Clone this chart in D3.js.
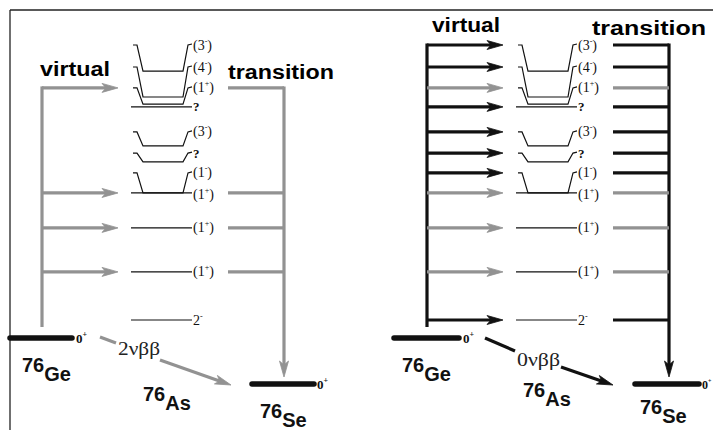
<!DOCTYPE html>
<html>
<head>
<meta charset="utf-8">
<script src="https://cdn.jsdelivr.net/npm/d3@7"></script>
<style>
  html, body { margin: 0; padding: 0; background: #fff; }
  svg { display: block; }
</style>
</head>
<body>
<script>
// ---- data (76As intermediate levels, arbitrary energy units) ----
const levelSpin      = ["3", "4", "1", "?", "3", "?", "1", "1", "1", "1", "2"];
const levelParity    = ["-", "-", "+", "",  "-", "",  "-", "+", "+", "+", "-"];
const levelTentative = [true, true, true, false, true, false, true, true, true, true, false];
const levelEnergy    = [9.05, 8.11, 7.85, 7.75, 6.33, 5.75, 4.62, 4.62, 3.35, 1.75, 0.0];
const labelEnergy    = [10.0, 9.20, 8.44, 7.75, 6.84, 6.07, 5.35, 4.62, 3.35, 1.75, 0.0];
const groundNuclei   = ["Ge", "As", "Se"];
const massNumber     = "76";
const groundEnergy   = [-0.65, -2.33];          // 76Ge 0+, 76Se 0+
const groundSpin     = ["0+", "0+"];
const decayModes     = ["2νββ", "0νββ"];
const headerLabels   = ["virtual", "transition"];

// ---- setup ----
const W = 713, H = 430;
const svg = d3.select("body").append("svg").attr("width", W).attr("height", H);
const y = d3.scaleLinear().domain([0, 10]).range([320, 45]);
const GRAY = "#929292";
const serif = "'Liberation Serif', 'DejaVu Serif', serif";
const sans = "'Liberation Sans', Arial, Helvetica, sans-serif";

// frame
svg.append("line").attr("x1", 10).attr("y1", 10).attr("x2", W).attr("y2", 10)
  .attr("stroke", "#222").attr("stroke-width", 1.3);
svg.append("line").attr("x1", 10).attr("y1", 10).attr("x2", 10).attr("y2", H)
  .attr("stroke", "#222").attr("stroke-width", 1.3);

function isGT(i) { return levelSpin[i] === "1" && levelParity[i] === "+"; }

function hArrow(g, x1, x2, yy, color) {
  g.append("line").attr("x1", x1).attr("y1", yy).attr("x2", x2 - 10).attr("y2", yy)
    .attr("stroke", color).attr("stroke-width", 3.2);
  g.append("path")
    .attr("d", `M${x2},${yy} L${x2 - 16},${yy - 4.5} L${x2 - 12},${yy} L${x2 - 16},${yy + 4.5} Z`)
    .attr("fill", color).attr("stroke", color).attr("stroke-width", 0.8);
}

function slantArrow(g, pts, color) {
  const [a, b, c, d] = pts;
  g.append("line").attr("x1", a[0]).attr("y1", a[1]).attr("x2", b[0]).attr("y2", b[1])
    .attr("stroke", color).attr("stroke-width", 3.2);
  const ang = Math.atan2(d[1] - c[1], d[0] - c[0]);
  const ex = d[0] - 10 * Math.cos(ang), ey = d[1] - 10 * Math.sin(ang);
  g.append("line").attr("x1", c[0]).attr("y1", c[1]).attr("x2", ex).attr("y2", ey)
    .attr("stroke", color).attr("stroke-width", 3.2);
  const L = 16, Wd = 4.5;
  const bx = d[0] - L * Math.cos(ang), by = d[1] - L * Math.sin(ang);
  const nx = -Math.sin(ang), ny = Math.cos(ang);
  const mx = d[0] - 12 * Math.cos(ang), my = d[1] - 12 * Math.sin(ang);
  g.append("path")
    .attr("d", `M${d[0]},${d[1]} L${bx + nx * Wd},${by + ny * Wd} L${mx},${my} L${bx - nx * Wd},${by - ny * Wd} Z`)
    .attr("fill", color).attr("stroke", color).attr("stroke-width", 0.8);
}

function levelLabel(g, x, yy, i) {
  const t = g.append("text").attr("x", x).attr("y", yy + 4.5)
    .attr("font-family", serif).attr("font-size", 14).attr("fill", "#111");
  if (levelSpin[i] === "?") { t.attr("font-size", 13).attr("font-weight", "bold").text("?"); return; }
  if (levelTentative[i]) t.append("tspan").text("(");
  t.append("tspan").text(levelSpin[i]);
  t.append("tspan").attr("dy", -6).attr("font-size", 8).text(levelParity[i]);
  t.append("tspan").attr("dy", 6).text(levelTentative[i] ? ")" : "");
}

function spinLabel(g, x, yy, s, small) {
  const t = g.append("text").attr("x", x).attr("y", yy + 5)
    .attr("font-family", serif).attr("font-weight", "bold").attr("font-size", small ? 12 : 13).attr("fill", "#111");
  t.append("tspan").text(s[0]);
  t.append("tspan").attr("dy", -6).attr("font-size", small ? 6 : 8).text(s[1]);
}

function nucleus(g, x, yBase, name) {
  const t = g.append("text").attr("x", x).attr("y", yBase)
    .attr("font-family", sans).attr("font-weight", "bold").attr("font-size", 20).attr("fill", "#111");
  t.append("tspan").text(massNumber);
  t.append("tspan").attr("dy", 9).text(name);
}

function drawPanel(p) {
  const g = svg.append("g");
  const dx = p.dx;
  const idx = p.arrows;
  const ys = idx.map(i => y(labelEnergy[i]));
  const yTop = d3.min(ys);

  // header texts
  g.append("text").attr("x", p.virt[0]).attr("y", p.virt[1])
    .attr("font-family", sans).attr("font-weight", "bold").attr("font-size", 20)
    .attr("textLength", p.virt[2]).attr("lengthAdjust", "spacingAndGlyphs").text(headerLabels[0]);
  g.append("text").attr("x", p.trans[0]).attr("y", p.trans[1])
    .attr("font-family", sans).attr("font-weight", "bold").attr("font-size", 20)
    .attr("textLength", p.trans[2]).attr("lengthAdjust", "spacingAndGlyphs").text(headerLabels[1]);

  // virtual vertical line
  g.append("line").attr("x1", 42 + dx).attr("y1", yTop - 1.5).attr("x2", 42 + dx).attr("y2", 327)
    .attr("stroke", p.mainColor).attr("stroke-width", 3.2);
  // transition vertical line with arrow
  const tx = 284 + dx;
  g.append("line").attr("x1", tx).attr("y1", yTop - 1.5).attr("x2", tx).attr("y2", 367)
    .attr("stroke", p.mainColor).attr("stroke-width", 3.2);
  g.append("path")
    .attr("d", `M${tx},377 L${tx - 4.5},361 L${tx},365 L${tx + 4.5},361 Z`)
    .attr("fill", p.mainColor).attr("stroke", p.mainColor).attr("stroke-width", 0.8);

  // arrows
  idx.forEach(i => {
    const c = isGT(i) ? GRAY : "#111";
    const yy = y(labelEnergy[i]);
    hArrow(g, 42 + dx, 118 + dx, yy, c);
    g.append("line").attr("x1", 228 + dx).attr("y1", yy).attr("x2", tx).attr("y2", yy)
      .attr("stroke", c).attr("stroke-width", 3.2);
  });

  // 76As levels
  const x0 = 131 + dx;
  levelSpin.forEach((s, i) => {
    const yl = y(labelEnergy[i]), yf = y(levelEnergy[i]);
    let pts;
    if (Math.abs(yl - yf) > 0.5) {
      pts = [[x0 + 2, yl], [x0 + 6, yl], [x0 + 12, yf], [x0 + 52, yf], [x0 + 57, yl], [x0 + 61, yl - 1]];
    } else {
      pts = [[x0, yf], [x0 + 61, yf]];
    }
    g.append("path").attr("d", d3.line()(pts)).attr("fill", "none")
      .attr("stroke", "#111").attr("stroke-width", 1.2);
    levelLabel(g, x0 + 62, (i === 7 ? yl + 2 : yl), i);
  });

  // ground states
  const yGe = y(groundEnergy[0]), ySe = y(groundEnergy[1]);
  g.append("line").attr("x1", p.ge[0]).attr("y1", yGe).attr("x2", p.ge[1]).attr("y2", yGe)
    .attr("stroke", "#111").attr("stroke-width", 5.5).attr("stroke-linecap", "round");
  g.append("line").attr("x1", p.se[0]).attr("y1", ySe).attr("x2", p.se[1]).attr("y2", ySe)
    .attr("stroke", "#111").attr("stroke-width", 5.5).attr("stroke-linecap", "round");
  spinLabel(g, p.ge[1] + 4, yGe, groundSpin[0], false);
  spinLabel(g, p.se[1] + 3, ySe, groundSpin[1], p.dx > 0);

  // decay arrow
  slantArrow(g, p.decay, p.mainColor);
  g.append("text").attr("x", p.decayText[0]).attr("y", p.decayText[1])
    .attr("font-family", serif).attr("font-size", 18)
    .attr("textLength", p.decayText[2]).attr("lengthAdjust", "spacingAndGlyphs")
    .attr("fill", "#222").text(p.mode);

  // nuclei labels
  nucleus(g, p.nGe[0], p.nGe[1], groundNuclei[0]);
  nucleus(g, p.nAs[0], p.nAs[1], groundNuclei[1]);
  nucleus(g, p.nSe[0], p.nSe[1], groundNuclei[2]);
}

// left panel: two-neutrino mode, only 1+ virtual states
drawPanel({
  dx: 0,
  arrows: levelSpin.map((s, i) => i).filter(isGT),
  mainColor: GRAY,
  mode: decayModes[0],
  virt: [40, 76, 70], trans: [228, 79, 106],
  ge: [10, 72], se: [252, 314],
  decay: [[100, 337], [116, 343], [160, 360], [231, 385]],
  decayText: [118, 355, 42],
  nGe: [22, 372], nAs: [143, 401], nSe: [260, 418]
});

// right panel: neutrinoless mode, all virtual states
drawPanel({
  dx: 385,
  arrows: levelSpin.map((s, i) => i),
  mainColor: "#111",
  mode: decayModes[1],
  virt: [432, 32, 68], trans: [592, 35, 114],
  ge: [394, 459], se: [635, 699],
  decay: [[485, 338], [515, 351], [561, 367], [613, 385]],
  decayText: [517, 366, 43],
  nGe: [402, 372], nAs: [523, 397], nSe: [640, 414]
});
</script>
</body>
</html>
